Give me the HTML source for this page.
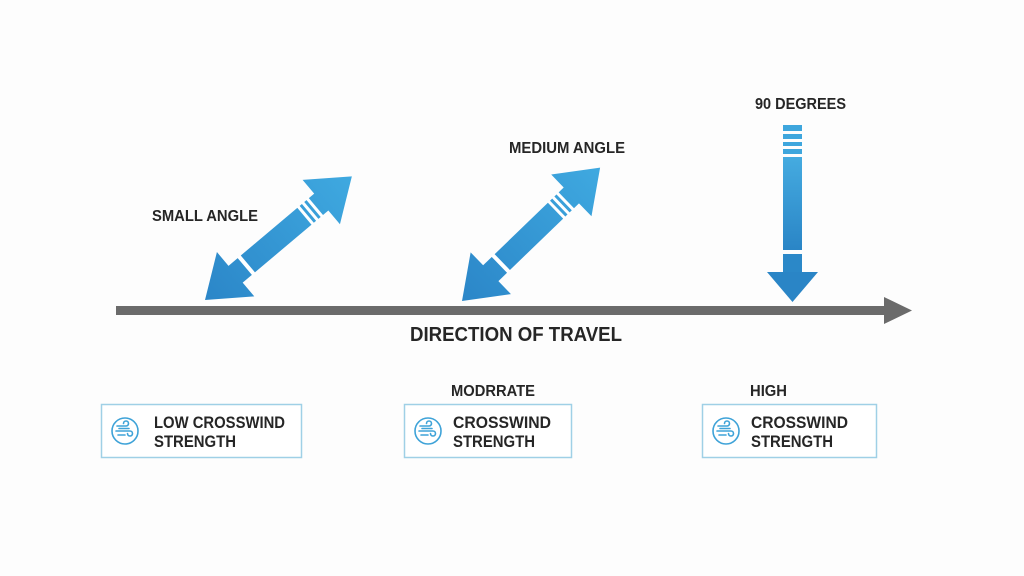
<!DOCTYPE html>
<html><head><meta charset="utf-8"><style>
html,body{margin:0;padding:0;background:#fdfdfd;}
svg{display:block;}
text{font-family:"Liberation Sans",sans-serif;font-weight:bold;fill:#262626;}
</style></head><body>
<svg width="1024" height="576" viewBox="0 0 1024 576" xmlns="http://www.w3.org/2000/svg">
<defs>
<linearGradient id="g" x1="0" y1="0" x2="1" y2="0">
<stop offset="0" stop-color="#2b86c8"/><stop offset="1" stop-color="#3fa9e0"/>
</linearGradient>
<linearGradient id="gv" x1="0" y1="0" x2="0" y2="1">
<stop offset="0" stop-color="#45abe0"/><stop offset="1" stop-color="#2a85c6"/>
</linearGradient>
<g id="dbl">
<polygon points="0,0 40,-29 40,-11 152,-11 152,-29 192,0 152,29 152,11 40,11 40,29" fill="url(#g)"/>
<rect x="52" y="-12" width="4" height="24" fill="#fff"/>
<rect x="130" y="-12" width="3" height="24" fill="#fff"/>
<rect x="136" y="-12" width="3" height="24" fill="#fff"/>
<rect x="142" y="-12" width="3" height="24" fill="#fff"/>
</g>
</defs>
<rect x="116" y="306" width="772" height="9" fill="#6b6b6b"/>
<polygon points="884,297 912,310.5 884,324" fill="#6b6b6b"/>
<text x="410" y="341" font-size="20" textLength="212" lengthAdjust="spacingAndGlyphs">DIRECTION OF TRAVEL</text>
<g transform="translate(205,300) rotate(-40.1)"><use href="#dbl"/></g>
<text x="152" y="221" font-size="16" textLength="106" lengthAdjust="spacingAndGlyphs">SMALL ANGLE</text>
<g transform="translate(462,301) rotate(-44)"><use href="#dbl"/></g>
<text x="509" y="153" font-size="16" textLength="116" lengthAdjust="spacingAndGlyphs">MEDIUM ANGLE</text>
<text x="755" y="109" font-size="16" textLength="91" lengthAdjust="spacingAndGlyphs">90 DEGREES</text>
<rect x="783" y="125" width="19" height="6" fill="#3ea6dd"/>
<rect x="783" y="134" width="19" height="5" fill="#3ea6dd"/>
<rect x="783" y="142" width="19" height="4" fill="#3ea6dd"/>
<rect x="783" y="149" width="19" height="5" fill="#3ea6dd"/>
<rect x="783" y="157" width="19" height="93" fill="url(#gv)"/>
<rect x="783" y="254" width="19" height="20" fill="#2b88c8"/>
<polygon points="767,272 818,272 792.5,302" fill="#2a85c6"/>
<text x="451" y="396" font-size="16" textLength="84" lengthAdjust="spacingAndGlyphs">MODRRATE</text>
<text x="750" y="396" font-size="16" textLength="37" lengthAdjust="spacingAndGlyphs">HIGH</text>
<g fill="#fff" stroke="#9fd0e6" stroke-width="1.5">
<rect x="101.5" y="404.5" width="200" height="53"/>
<rect x="404.5" y="404.5" width="167" height="53"/>
<rect x="702.5" y="404.5" width="174" height="53"/>
</g>
<g id="ic" fill="none" stroke="#3fa3d8" stroke-width="1.6" stroke-linecap="round">
<circle cx="125" cy="431" r="13"/>
<path d="M117,426 h9 a2.5,2.5 0 1 0 -2.5,-2.5"/>
<path d="M116,431 h14 a2.5,2.5 0 1 1 -2.5,2.5"/>
<path d="M118,435 h7 M119,428.5 h10"/>
</g>
<use href="#ic" x="303"/>
<use href="#ic" x="601"/>
<text x="154" y="428" font-size="17" textLength="131" lengthAdjust="spacingAndGlyphs">LOW CROSSWIND</text>
<text x="154" y="447" font-size="17" textLength="82" lengthAdjust="spacingAndGlyphs">STRENGTH</text>
<text x="453" y="428" font-size="17" textLength="98" lengthAdjust="spacingAndGlyphs">CROSSWIND</text>
<text x="453" y="447" font-size="17" textLength="82" lengthAdjust="spacingAndGlyphs">STRENGTH</text>
<text x="751" y="428" font-size="17" textLength="97" lengthAdjust="spacingAndGlyphs">CROSSWIND</text>
<text x="751" y="447" font-size="17" textLength="82" lengthAdjust="spacingAndGlyphs">STRENGTH</text>
</svg>
</body></html>
